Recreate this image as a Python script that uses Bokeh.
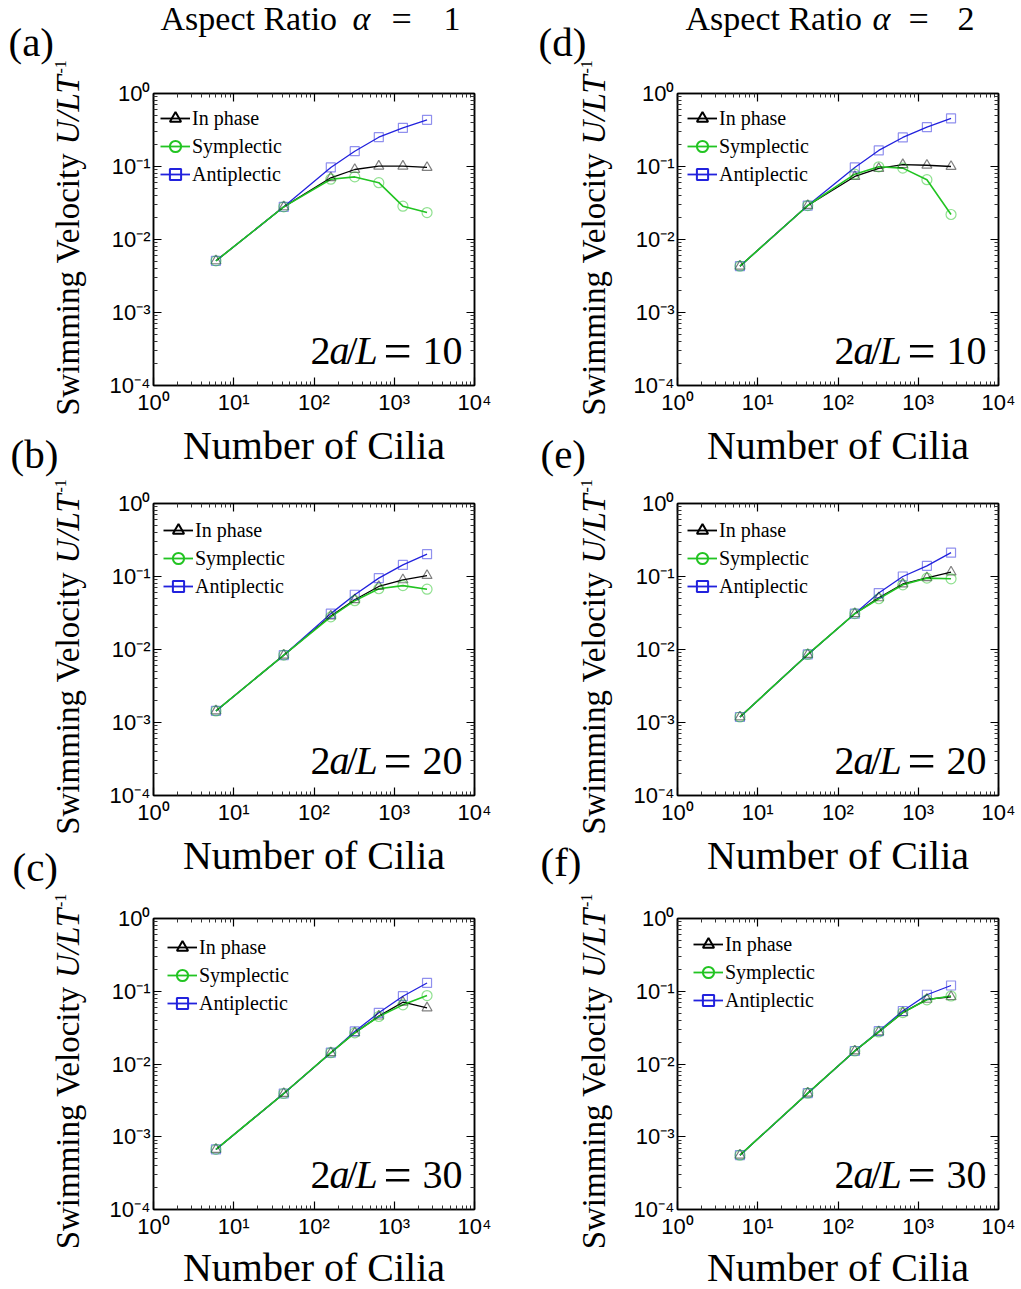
import numpy as np
from math import pi, sin, cos
from bokeh.plotting import figure
from bokeh.models import Range1d, LogAxis, FixedTicker, Legend, LegendItem
from bokeh.layouts import row, column
from bokeh.embed import file_html
from bokeh.resources import INLINE
from bokeh.core.properties import value

# ---------------- data ----------------
n_cilia = [6, 42, 162, 322, 642, 1282, 2562]

# Aspect ratio alpha = 1
a_inphase = [0.0051, 0.028, 0.070, 0.091, 0.101, 0.101, 0.097]
a_symp = [0.0051, 0.028, 0.067, 0.072, 0.060, 0.0286, 0.0234]
a_anti = [0.0051, 0.028, 0.097, 0.162, 0.252, 0.339, 0.436]

b_inphase = [0.00144, 0.00837, 0.0288, 0.048, 0.073, 0.090, 0.103]
b_symp = [0.00144, 0.00837, 0.028, 0.0466, 0.068, 0.075, 0.067]
b_anti = [0.00144, 0.00837, 0.031, 0.0562, 0.095, 0.144, 0.202]

c_inphase = [0.00067, 0.00393, 0.0143, 0.0268, 0.0455, 0.0707, 0.059]
c_symp = [0.00067, 0.00393, 0.0143, 0.0268, 0.045, 0.065, 0.0873]
c_anti = [0.00067, 0.00393, 0.0143, 0.028, 0.0505, 0.0855, 0.130]

# Aspect ratio alpha = 2
d_inphase = [0.00431, 0.0292, 0.073, 0.094, 0.106, 0.104, 0.100]
d_symp = [0.00431, 0.0292, 0.0785, 0.099, 0.095, 0.066, 0.022]
d_anti = [0.00431, 0.0292, 0.097, 0.166, 0.25, 0.346, 0.455]

e_inphase = [0.00119, 0.00855, 0.031, 0.051, 0.079, 0.096, 0.115]
e_symp = [0.00119, 0.00855, 0.031, 0.0496, 0.077, 0.095, 0.093]
e_anti = [0.00119, 0.00855, 0.031, 0.0593, 0.100, 0.140, 0.212]

f_inphase = [0.000558, 0.00397, 0.0151, 0.0276, 0.0508, 0.0773, 0.084]
f_symp = [0.000558, 0.00397, 0.0151, 0.0276, 0.0508, 0.0763, 0.086]
f_anti = [0.000558, 0.00397, 0.0151, 0.0283, 0.0535, 0.0895, 0.120]

series_names = ["In phase", "Symplectic", "Antiplectic"]
x_major = [1, 10, 100, 1000, 10000]
x_labels = ["10⁰", "10¹", "10²", "10³", "10⁴"]
y_major = [1e-4, 1e-3, 1e-2, 1e-1, 1]
y_labels = ["10⁻⁴", "10⁻³", "10⁻²", "10⁻¹", "10⁰"]
ratio_values = ["10", "20", "30"]
aspect_values = ["1", "2"]
panel_letters = [["(a)", "(b)", "(c)"], ["(d)", "(e)", "(f)"]]
x_title = "Number of Cilia"

# ---------------- styling ----------------
SERIF = "Liberation Serif"
SANS = "Liberation Sans"
FRAME_W = 321
XL, XR, YB, YT = 1, 1e4, 1e-4, 1
YSIGN = -1      # text glyph y_offset is in screen direction (down positive)
BASE_FIX = 15   # baseline correction along the text's "up" direction

colors = {"In phase": "#000000", "Symplectic": "#22c422", "Antiplectic": "#2222dd"}
markers = {"In phase": "triangle", "Symplectic": "circle", "Antiplectic": "square"}
msize = {"In phase": 10, "Symplectic": 10, "Antiplectic": 9}


def minor(d0, d1):
    return [k * 10.0 ** d for d in range(d0, d1) for k in range(2, 10)]


x_minor = minor(0, 4)
y_minor = minor(-4, 0)


def style_axis(ax, ticks, minors, labels, show, standoff):
    ax.ticker = FixedTicker(ticks=ticks, minor_ticks=minors)
    ax.major_tick_in = 8
    ax.major_tick_out = 0
    ax.minor_tick_in = 4
    ax.minor_tick_out = 0
    ax.axis_line_color = "black"
    ax.axis_line_width = 1.5
    ax.major_tick_line_color = "black"
    ax.major_tick_line_width = 1.2
    ax.minor_tick_line_color = "#333333"
    ax.minor_tick_line_width = 1
    ax.major_label_standoff = standoff
    if show:
        ax.major_label_overrides = {t: l for t, l in zip(ticks, labels)}
        ax.major_label_text_font = SANS
        ax.major_label_text_font_size = "22px"
        ax.major_label_text_color = "black"
    else:
        ax.major_label_overrides = {t: "" for t in ticks}
        ax.major_label_text_font_size = "0px"


def txt(p, text, x, y, dx, dy, size, style="normal", align="left",
        baseline="alphabetic", angle=0.0, font=SERIF):
    """dx: px to the right, dy: px upward from the anchor (x, y) in data units."""
    dx = dx - BASE_FIX * sin(angle)
    dy = dy + BASE_FIX * cos(angle)
    p.text(x=[x], y=[y], text=[text], x_offset=dx, y_offset=YSIGN * dy,
           text_font=value(font), text_font_size=value(f"{size}px"),
           text_font_style=style, text_align=align, text_baseline=baseline,
           angle=angle, text_color="black", level="overlay")


def panel(series, col, height, bt, bb, ratio, leg_dx, leg_dy, xt_dy, yl_shift):
    left = col == 0
    bl, br = (153, 36) if left else (167, 23)
    fh = height - bt - bb
    p = figure(width=bl + FRAME_W + br, height=height,
               x_axis_type="log", y_axis_type="log",
               x_range=Range1d(1, 1e4), y_range=Range1d(1e-4, 1),
               output_backend="svg", toolbar_location=None,
               min_border_left=bl, min_border_right=br,
               min_border_top=bt, min_border_bottom=bb,
               background_fill_color="white", border_fill_color="white",
               outline_line_color="black", outline_line_width=1.5)
    p.grid.visible = False
    p.add_layout(LogAxis(), "above")
    p.add_layout(LogAxis(), "right")
    style_axis(p.below[0], x_major, x_minor, x_labels, True, 4)
    style_axis(p.left[0], y_major, y_minor, y_labels, True, 3)
    style_axis(p.above[0], x_major, x_minor, x_labels, False, 0)
    style_axis(p.right[0], y_major, y_minor, y_labels, False, 0)

    data = dict(zip(series_names, series))
    for name in ["In phase", "Antiplectic", "Symplectic"]:
        p.line(n_cilia, data[name], line_color=colors[name],
               line_width=1.6 if name == "Symplectic" else 1.3)
    for name in ["In phase", "Antiplectic", "Symplectic"]:
        p.scatter(n_cilia, data[name], marker=markers[name], size=msize[name],
                  fill_color=None, line_color=colors[name], line_alpha=0.5,
                  line_width=1.2)

    # legend (legend-only glyphs)
    items = []
    for name in series_names:
        nan = np.array([np.nan])
        l = p.line(nan, nan, line_color=colors[name], line_width=1.8)
        m = p.scatter(nan, nan, marker=markers[name], fill_color=None,
                      line_color=colors[name], line_width=2.0)
        items.append(LegendItem(label=name, renderers=[l, m]))
    pad = 5
    gh = 28
    leg = Legend(items=items, padding=pad, margin=0, spacing=0,
                 glyph_width=30, glyph_height=gh,
                 label_standoff=2, label_height=20, label_text_font=SERIF,
                 label_text_font_size="20px", label_text_color="black",
                 background_fill_alpha=0, border_line_alpha=0)
    leg_h = 2 * pad + 3 * gh
    leg.location = (leg_dx - pad, fh - (leg_dy - gh / 2 - pad) - leg_h)
    p.add_layout(leg)

    # 2a/L = N
    dyb = 20
    txt(p, "2", XR, YB, -164, dyb, 40)
    txt(p, "a", XR, YB, -145, dyb, 40, style="italic")
    txt(p, "/", XR, YB, -128, dyb, 40)
    txt(p, "L", XR, YB, -119, dyb, 40, style="italic")
    txt(p, "=", XR, YB, -91, dyb, 50)
    txt(p, ratio, XR, YB, -52, dyb, 40)

    # x-axis title
    txt(p, x_title, XL, YB, FRAME_W / 2, xt_dy, 40, align="center")

    # y-axis title (rotated, composed)
    ydx = -71 if left else -69
    P = fh / 2 + 95 + yl_shift
    txt(p, "Swimming Velocity ", XL, YB, ydx, P, 33, align="right", angle=pi / 2)
    txt(p, "U/LT", XL, YB, ydx, P, 33, style="italic", align="left", angle=pi / 2)
    txt(p, "-1", XL, YB, ydx - 7, P + 71, 16, align="left", angle=pi / 2)
    return p


rows_cfg = [(478, 93, 93), (413, 25, 96), (398, 27, 80)]
xtitle_dy = [-75, -75, -73]
ylabel_shift = [0, -9, -9]
leg_pos = [[(7, 25), (10, 27), (14, 29)], [(10, 25), (10, 27), (16, 26)]]
all_series = [
    [(a_inphase, a_symp, a_anti), (b_inphase, b_symp, b_anti), (c_inphase, c_symp, c_anti)],
    [(d_inphase, d_symp, d_anti), (e_inphase, e_symp, e_anti), (f_inphase, f_symp, f_anti)],
]

figs = [[None] * 3 for _ in range(2)]
for c in range(2):
    for r in range(3):
        h, bt, bb = rows_cfg[r]
        figs[c][r] = panel(all_series[c][r], c, h, bt, bb, ratio_values[r],
                           leg_pos[c][r][0], leg_pos[c][r][1], xtitle_dy[r],
                           ylabel_shift[r])

pa, pb, pc = figs[0]
pd, pe, pf = figs[1]
# panel letters: (a),(d) top of row 1; (b),(e) bottom of row 1; (c),(f) bottom of row 2
txt(pa, panel_letters[0][0], XL, YT, -145, 37, 41)
txt(pd, panel_letters[1][0], XL, YT, -139, 37, 41)
txt(pa, panel_letters[0][1], XL, YB, -143, -83, 41)
txt(pd, panel_letters[1][1], XL, YB, -137, -83, 41)
txt(pb, panel_letters[0][2], XL, YB, -141, -86, 41)
txt(pe, panel_letters[1][2], XL, YB, -137, -81, 41)

# column titles
for p, val, offs in [(pa, aspect_values[0], (7, 199, 238, 290)),
                     (pd, aspect_values[1], (8, 195, 231, 280))]:
    txt(p, "Aspect Ratio", XL, YT, offs[0], 60, 34)
    txt(p, "α", XL, YT, offs[1], 60, 34, style="italic")
    txt(p, "=", XL, YT, offs[2], 60, 36)
    txt(p, val, XL, YT, offs[3], 60, 34)

layout = column(row(pa, pd, spacing=0), row(pb, pe, spacing=0),
                row(pc, pf, spacing=0), spacing=0)

open("out.html", "w").write(file_html(layout, INLINE))
